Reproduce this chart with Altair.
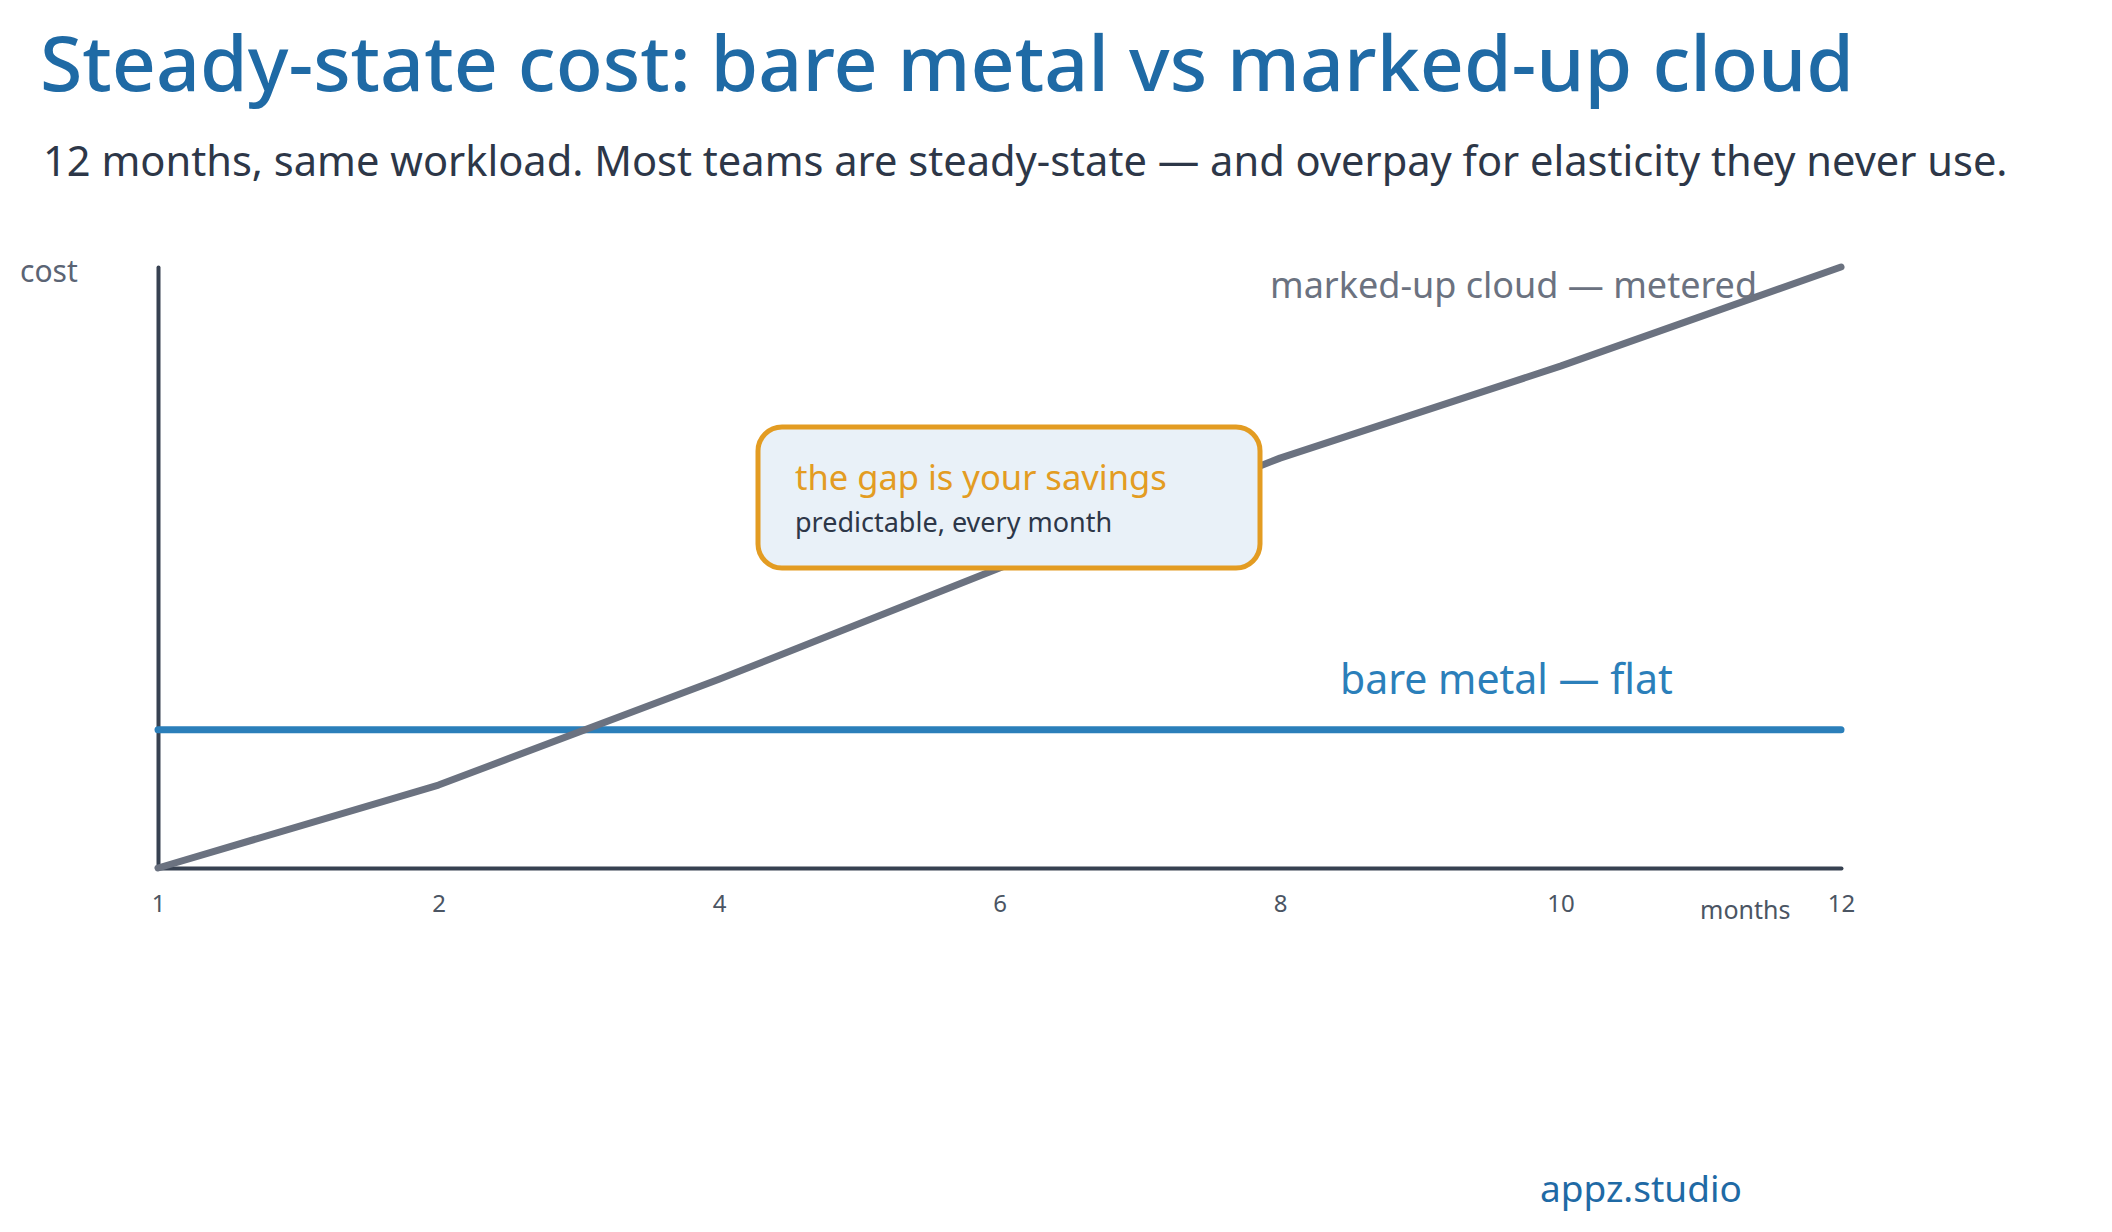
import altair as alt
import pandas as pd

FONT = "Noto Sans"

months = ["1", "2", "4", "6", "8", "10", "12"]
cloud_cost = [0, 13.8, 31.4, 49.9, 68.2, 83.5, 100]
bare_metal_cost = [23, 23, 23, 23, 23, 23, 23]

title_text = ["Steady-state cost: bare metal vs marked-up cloud"]
subtitle_text = ["12 months, same workload. Most teams are steady-state \u2014 and overpay for elasticity they never use."]
cloud_label = ["marked-up cloud \u2014 metered"]
bare_label = ["bare metal \u2014 flat"]
callout_title = ["the gap is your savings"]
callout_body = ["predictable, every month"]
y_title = ["cost"]
x_title = ["months"]
brand = ["appz.studio"]

AXIS_COLOR = "#374151"
CLOUD_COLOR = "#6b7280"
BARE_COLOR = "#2b7fba"
TITLE_COLOR = "#1f6aa5"
ORANGE = "#e39c22"
DARK = "#2d3748"

cloud_df = pd.DataFrame({"month": months, "cost": cloud_cost})
bare_df = pd.DataFrame({"month": months, "cost": bare_metal_cost})

X = alt.X(
    "month:O",
    sort=months,
    scale=alt.Scale(type="point", padding=0),
    axis=alt.Axis(
        title=None, labelAngle=0, ticks=False, grid=False,
        domainColor=AXIS_COLOR, domainWidth=4, domainCap="round",
        labelFont=FONT, labelFontSize=24, labelColor="#4b5563", labelPadding=24,
    ),
)
Y = alt.Y(
    "cost:Q",
    scale=alt.Scale(domain=[0, 100], nice=False),
    axis=alt.Axis(
        title=None, labels=False, ticks=False, grid=False,
        domainColor=AXIS_COLOR, domainWidth=4, domainCap="round",
    ),
)

bare_line = alt.Chart(bare_df).mark_line(
    color=BARE_COLOR, strokeWidth=7, strokeCap="round"
).encode(x=X, y=Y)

cloud_line = alt.Chart(cloud_df).mark_line(
    color=CLOUD_COLOR, strokeWidth=7, strokeCap="round", strokeJoin="round"
).encode(x=X, y=Y)

box = alt.Chart(pd.DataFrame({"k": [0]})).mark_rect(
    cornerRadius=24, fill="#e9f1f8", stroke=ORANGE, strokeWidth=5
).encode(x=alt.value(600), x2=alt.value(1102), y=alt.value(160), y2=alt.value(301))


def label(texts, x, y, size, color, weight="normal", align="left", baseline="middle"):
    return alt.Chart(pd.DataFrame({"t": texts})).mark_text(
        font=FONT, fontSize=size, color=color, fontWeight=weight,
        align=align, baseline=baseline,
    ).encode(x=alt.value(x), y=alt.value(y), text="t:N")


layers = [
    bare_line,
    cloud_line,
    box,
    label(title_text, -118, -176, 77, TITLE_COLOR, weight=500, baseline="alphabetic"),
    label(subtitle_text, -115, -91, 41.6, DARK, baseline="alphabetic"),
    label(y_title, -138, 6, 30, "#5b6474"),
    label(cloud_label, 1112, 20, 36, CLOUD_COLOR),
    label(bare_label, 1182, 415, 41, BARE_COLOR),
    label(callout_title, 637, 213, 34.5, ORANGE),
    label(callout_body, 637, 257, 27, DARK),
    label(x_title, 1542, 644, 25, "#4b5563"),
    label(brand, 1382, 924, 37, TITLE_COLOR),
]

chart = alt.layer(*layers).properties(
    width=1683,
    height=601,
    autosize=alt.AutoSizeParams(type="none"),
    padding={"left": 158, "top": 267, "right": 271, "bottom": 364},
    background="white",
).configure_view(stroke=None)

chart.save("out.html", embed_options={"renderer": "svg", "actions": False})
